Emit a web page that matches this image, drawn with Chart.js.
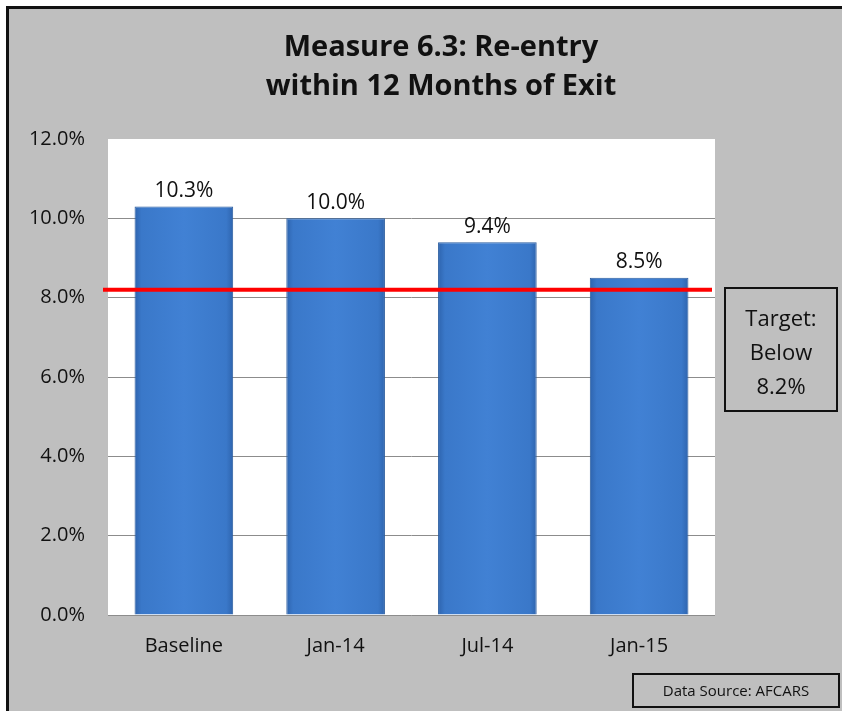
<!DOCTYPE html>
<html>
<head>
<meta charset="utf-8">
<script src="https://cdn.jsdelivr.net/npm/chart.js@4/dist/chart.umd.min.js"></script>
<style>
    html, body { margin: 0; padding: 0; }
    body { width: 842px; height: 711px; overflow: hidden; background: #fff; position: relative; font-family: "Open Sans", sans-serif; }
    #frame { position: absolute; left: 6px; top: 6px; width: 850px; height: 720px; border: 3px solid #111; background: #bfbfbf; }
    #title { position: absolute; left: 0; top: 25px; width: 882px; text-align: center; font-weight: bold; font-size: 29px; line-height: 39px; color: #111; }
    #target { position: absolute; left: 724px; top: 287px; width: 110px; height: 121px; border: 2px solid #111; text-align: center; font-size: 22px; line-height: 34px; color: #111; box-sizing: content-box; }
    #target div { padding-top: 11px; }
    #source { position: absolute; left: 632px; top: 673px; width: 204px; height: 31px; border: 2px solid #111; text-align: center; font-size: 15px; line-height: 31px; color: #111; }
    #chartWrap { position: absolute; left: 0; top: 0; width: 842px; height: 711px; }
</style>
</head>
<body>
<div id="frame"></div>
<div id="chartWrap"><canvas id="reentryChart" width="842" height="711"></canvas></div>
<div id="title">Measure 6.3: Re-entry<br>within 12 Months of Exit</div>
<div id="target"><div>Target:<br>Below<br>8.2%</div></div>
<div id="source">Data Source: AFCARS</div>
<script>
// Re-entry rate by reporting period
const periods = ['Baseline', 'Jan-14', 'Jul-14', 'Jan-15'];
const reentryRates = [10.3, 10.0, 9.4, 8.5];
const targetRate = 8.2;
const yTicks = [0, 2, 4, 6, 8, 10, 12];

const BAR_PCT = 0.65;

// white plot area behind the grid
const plotBackground = {
    id: 'plotBackground',
    beforeDraw(chart) {
        const { ctx, chartArea } = chart;
        ctx.save();
        ctx.fillStyle = '#ffffff';
        ctx.fillRect(chartArea.left, chartArea.top, chartArea.right - chartArea.left, chartArea.bottom - chartArea.top);
        ctx.restore();
    }
};

// value labels above each bar + the red target line
const barExtras = {
    id: 'barExtras',
    afterDatasetsDraw(chart) {
        const { ctx, chartArea } = chart;
        const meta = chart.getDatasetMeta(0);
        ctx.save();
        ctx.font = '21px "Open Sans", sans-serif';
        ctx.fillStyle = '#111';
        ctx.textAlign = 'center';
        ctx.textBaseline = 'bottom';
        meta.data.forEach((bar, i) => {
            ctx.fillText(reentryRates[i].toFixed(1) + '%', bar.x, bar.y - 5);
        });
        const y = chart.scales.y.getPixelForValue(targetRate);
        ctx.strokeStyle = '#ff0000';
        ctx.lineWidth = 4;
        ctx.beginPath();
        ctx.moveTo(chartArea.left - 5, y);
        ctx.lineTo(chartArea.right - 3, y);
        ctx.stroke();
        ctx.restore();
    }
};

// horizontal shading across each bar, a little darker at the edges
function barFill(context) {
    const chart = context.chart;
    const xScale = chart.scales.x;
    if (!xScale || !chart.chartArea) return '#3d7acc';
    const cx = xScale.getPixelForValue(context.dataIndex);
    const w = (xScale.width / periods.length) * BAR_PCT;
    const x0 = cx - w / 2;
    const g = chart.ctx.createLinearGradient(x0, 0, x0 + w, 0);
    g.addColorStop(0, '#2e64ae');
    g.addColorStop(0.07, '#3a78c9');
    g.addColorStop(0.5, '#4181d4');
    g.addColorStop(0.93, '#3a78c9');
    g.addColorStop(1, '#2e64ae');
    return g;
}

const ctx = document.getElementById('reentryChart').getContext('2d');
new Chart(ctx, {
    type: 'bar',
    data: {
        labels: periods,
        datasets: [{
            data: reentryRates,
            backgroundColor: barFill,
            borderColor: '#2a5c9f',
            borderWidth: 1,
            categoryPercentage: 1,
            barPercentage: BAR_PCT
        }]
    },
    options: {
        responsive: false,
        animation: false,
        layout: { padding: { left: 20, right: 127, top: 139, bottom: 36 } },
        plugins: {
            legend: { display: false },
            tooltip: { enabled: false }
        },
        scales: {
            x: {
                grid: { display: false, drawTicks: false },
                border: { display: false },
                ticks: { color: '#111', padding: 19, font: { family: 'Open Sans', size: 20 } },
                afterFit(axis) { axis.height = 60; }
            },
            y: {
                min: 0,
                max: 12,
                afterBuildTicks(axis) { axis.ticks = yTicks.map(v => ({ value: v })); },
                grid: {
                    drawTicks: false,
                    color: c => (c.tick && c.tick.value === 12) ? 'rgba(0,0,0,0)' : '#8c8c8c',
                    lineWidth: 1
                },
                border: { display: false },
                ticks: {
                    color: '#111',
                    padding: 23,
                    font: { family: 'Open Sans', size: 20 },
                    callback: v => v.toFixed(1) + '%'
                },
                afterFit(axis) { axis.width = 88; }
            }
        }
    },
    plugins: [plotBackground, barExtras]
});
</script>
</body>
</html>
